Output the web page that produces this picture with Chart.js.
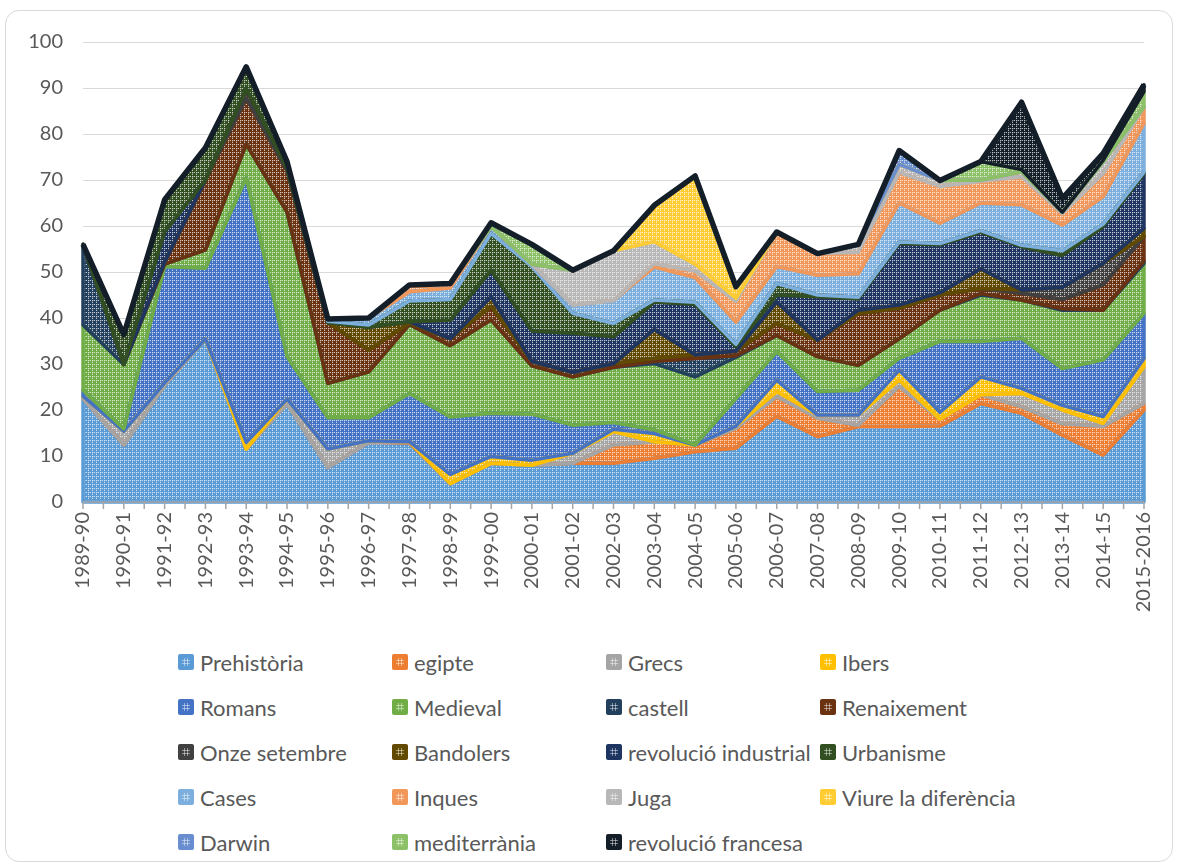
<!DOCTYPE html>
<html>
<head>
<meta charset="utf-8">
<title>Projectes per curs</title>
<script src="https://cdn.jsdelivr.net/npm/chart.js@4.4.0/dist/chart.umd.min.js"></script>
<style>
    body { margin: 0; background: #fff; font-family: Lato, "Open Sans", sans-serif; }
    #wrap { position: relative; width: 1178px; height: 868px; }
    #frame { position: absolute; left: 5px; top: 10px; width: 1166px; height: 850px; border: 1px solid #D9D9D9; border-radius: 14px; }
    #chartBox { position: absolute; left: 0; top: 0; width: 1178px; height: 640px; }
    .item { position: absolute; display: flex; align-items: center; height: 24px; color: #595959; font-size: 22px; white-space: nowrap; }
    .swatch { width: 16px; height: 16px; border-radius: 2px; margin-right: 6px; }
</style>
</head>
<body>
<div id="wrap">
    <div id="frame"></div>
    <div id="chartBox"><canvas id="projectesChart"></canvas></div>
    <div id="legend"></div>
</div>
<script>
const years = ['1989-90', '1990-91', '1991-92', '1992-93', '1993-94', '1994-95', '1995-96', '1996-97', '1997-98',
    '1998-99', '1999-00', '2000-01', '2001-02', '2002-03', '2003-04', '2004-05', '2005-06', '2006-07', '2007-08',
    '2008-09', '2009-10', '2010-11', '2011-12', '2012-13', '2013-14', '2014-15', '2015-2016'];

const prehistoria   = [22.5, 12.4, 25.4, 35.5, 11.5, 21.4, 7.5, 13, 12.8, 4, 8.4, 8, 8.4, 8.4, 9.5, 10.9, 11.7, 18.6, 14.2, 16.4, 16.4, 16.5, 21.4, 19.3, 14.5, 10.2, 20];
const egipte        = [0, 0, 0, 0, 0, 0, 0, 0, 0.3, 0, 0, 0, 0, 4, 3.6, 1.5, 4.3, 4.3, 4, 0.3, 8.7, 1.5, 1.9, 1.4, 2.5, 6.2, 1.4];
const grecs         = [0.5, 3, 0.5, 0, 0, 1, 4, 0.3, 0, 0, 0, 0, 2.2, 2.9, 0, 0, 0.5, 1.1, 0.7, 2.2, 1.4, 0, 0, 2.9, 3, 0.7, 8];
const ibers         = [0, 0, 0, 0, 1.5, 0, 0, 0, 0, 2, 1.5, 1.1, 0, 0.5, 1.8, 0, 0, 2.5, 0, 0, 2.2, 1.5, 3.9, 1.1, 1, 1.5, 1.8];
const romans        = [1.3, 0.5, 25.3, 15.3, 57.5, 9.2, 6.8, 5, 10.5, 12.5, 9.4, 10, 6.1, 1.5, 0.8, 0, 6, 6.2, 5.1, 5.4, 2.5, 15.4, 7.7, 10.9, 8, 12.3, 9.8];
const medieval      = [14.2, 14, 0.5, 4, 7.3, 31.4, 7.5, 10, 15, 15.5, 20.3, 10.5, 10.5, 12, 14.4, 14.8, 9, 3.5, 7.6, 5.4, 4.3, 6.8, 10.1, 8.3, 12.7, 10.8, 10.9];
const castell       = [17.5, 0, 0, 0, 0, 0, 0, 0, 0, 0, 0, 0, 0, 0, 0.5, 4, 0.3, 0, 0, 0, 0, 0, 0.3, 0, 0.3, 0, 0.5];
const renaixement   = [0, 0, 0.5, 15.2, 10, 9, 13.2, 4.7, 0.3, 1.5, 2.9, 1, 1, 0.8, 0.6, 0.8, 1, 2.6, 3.6, 11.3, 6.6, 3.3, 1.1, 1.5, 2, 5.5, 5.3];
const onzeSetembre  = [0, 0, 0, 0, 2, 0.5, 0, 0, 0, 0, 0, 0, 0, 0, 0, 0, 0, 0, 0, 0, 0, 0, 0, 0.7, 2.7, 4.7, 0];
const bandolers     = [0, 0, 0, 0, 0, 0, 0, 5, 0.3, 0, 2.1, 0, 0, 0, 6.3, 0, 0, 4.7, 0, 0.7, 0.7, 0.5, 4.3, 0, 0, 0, 1.8];
const revIndustrial = [0, 0, 6.5, 0, 0, 0, 0, 0, 0, 4, 5.8, 6.6, 8.5, 5.8, 6, 11, 1, 1.5, 9.4, 2.5, 13.4, 10.4, 8, 9.4, 6.9, 8, 11.9];
const urbanisme     = [0, 6.5, 7, 7, 4.8, 1.5, 0.3, 0.5, 4.5, 4.5, 8, 14, 4.3, 2.9, 0.4, 0.4, 0.5, 2.5, 0.4, 0.3, 0.3, 0.3, 0.3, 0.3, 1, 0.5, 0.3];
const cases         = [0, 0, 0, 0, 0, 0, 0.5, 1.5, 2, 2.5, 1.5, 0.5, 1.8, 5, 7.2, 5.4, 4.8, 3.7, 4.3, 5.1, 8.5, 4.4, 6, 8.8, 5.6, 6, 10.6];
const inques        = [0, 0, 0, 0, 0, 0, 0, 0, 1.5, 1, 0, 0, 0, 0, 0.7, 1.4, 4.5, 7.5, 4.7, 4.7, 6.6, 8, 4.7, 6.1, 2.5, 5, 3.6];
const juga          = [0, 0, 0, 0, 0, 0, 0, 0, 0, 0, 0, 0, 7.6, 10.8, 4.8, 1.5, 0.7, 0, 0, 1.7, 1.8, 1.3, 0.3, 1.1, 0.3, 2.6, 0];
const viure         = [0, 0, 0, 0, 0, 0, 0, 0, 0, 0, 0, 0, 0, 0, 7.9, 19.2, 2.5, 0, 0, 0, 0, 0, 0, 0, 0, 0, 0];
const darwin        = [0, 0, 0, 0, 0, 0, 0, 0, 0, 0, 0, 0, 0, 0, 0, 0, 0, 0, 0, 0, 3, 0, 0, 0, 0, 0, 0];
const mediterrania  = [0, 0, 0, 0, 0, 0, 0, 0, 0, 0, 0.8, 4.3, 0, 0, 0, 0, 0, 0, 0, 0, 0, 0, 4, 0.5, 0, 0.3, 3.3];
const revFrancesa   = [0, 0, 0, 0, 0, 0, 0, 0, 0, 0, 0, 0, 0, 0, 0, 0, 0, 0, 0, 0, 0, 0, 0, 14.6, 3, 1.5, 1.5];

const series = [
    { label: 'Prehistòria', data: prehistoria, color: '#5B9BD5' },
    { label: 'egipte', data: egipte, color: '#ED7D31' },
    { label: 'Grecs', data: grecs, color: '#A5A5A5' },
    { label: 'Ibers', data: ibers, color: '#FFC000' },
    { label: 'Romans', data: romans, color: '#4472C4' },
    { label: 'Medieval', data: medieval, color: '#70AD47' },
    { label: 'castell', data: castell, color: '#22405E' },
    { label: 'Renaixement', data: renaixement, color: '#6B3211' },
    { label: 'Onze setembre', data: onzeSetembre, color: '#404040' },
    { label: 'Bandolers', data: bandolers, color: '#614A00' },
    { label: 'revolució industrial', data: revIndustrial, color: '#1F3561' },
    { label: 'Urbanisme', data: urbanisme, color: '#324F21' },
    { label: 'Cases', data: cases, color: '#7CAFDD' },
    { label: 'Inques', data: inques, color: '#F1975A' },
    { label: 'Juga', data: juga, color: '#B7B7B7' },
    { label: 'Viure la diferència', data: viure, color: '#FFCD33' },
    { label: 'Darwin', data: darwin, color: '#698ED0' },
    { label: 'mediterrània', data: mediterrania, color: '#8CC168' },
    { label: 'revolució francesa', data: revFrancesa, color: '#131E29' }
];

// small grid pattern like the excel fill
function makePattern(hex) {
    const c = document.createElement('canvas');
    c.width = 4; c.height = 4;
    const g = c.getContext('2d');
    g.fillStyle = hex;
    g.fillRect(0, 0, 4, 4);
    g.fillStyle = 'rgba(255,255,255,0.7)';
    g.fillRect(0, 0, 1, 1);
    g.fillRect(2, 0, 1, 1);
    g.fillRect(0, 2, 1, 1);
    g.fillStyle = 'rgba(255,255,255,0.25)';
    g.fillRect(1, 0, 1, 1);
    g.fillRect(0, 1, 1, 1);
    return g.createPattern(c, 'repeat');
}

// each area gets its whole outline, upper series drawn last (as excel does)
const outlinePlugin = {
    id: 'outlines',
    afterDatasetsDraw(chart) {
        const ctx = chart.ctx;
        const base = chart.scales.y.getPixelForValue(0);
        let prev = null;
        ctx.save();
        ctx.lineJoin = 'round';
        chart.data.datasets.forEach((ds, k) => {
            const pts = chart.getDatasetMeta(k).data;
            ctx.beginPath();
            pts.forEach((p, j) => j ? ctx.lineTo(p.x, p.y) : ctx.moveTo(p.x, p.y));
            for (let j = pts.length - 1; j >= 0; j--) {
                ctx.lineTo(pts[j].x, prev ? prev[j].y : base);
            }
            ctx.closePath();
            ctx.lineWidth = 3.5;
            ctx.strokeStyle = series[k].color;
            ctx.stroke();
            prev = pts;
        });
        // thick top line
        ctx.beginPath();
        prev.forEach((p, j) => j ? ctx.lineTo(p.x, p.y) : ctx.moveTo(p.x, p.y));
        ctx.lineWidth = 5.5;
        ctx.strokeStyle = series[series.length - 1].color;
        ctx.stroke();
        ctx.restore();
    },
    afterDraw(chart) {
        const ctx = chart.ctx;
        const x = chart.scales.x;
        const yb = chart.chartArea.bottom;
        ctx.save();
        ctx.strokeStyle = '#A6A6A6';
        ctx.lineWidth = 1.5;
        ctx.beginPath();
        ctx.moveTo(chart.chartArea.left, yb);
        ctx.lineTo(chart.chartArea.right, yb);
        for (let j = 0; j < years.length; j++) {
            const px = x.getPixelForTick(j);
            ctx.moveTo(px, yb);
            ctx.lineTo(px, yb + 7);
            if (j < years.length - 1) {
                const mid = (px + x.getPixelForTick(j + 1)) / 2;
                ctx.moveTo(mid, yb);
                ctx.lineTo(mid, yb + 7);
            }
        }
        ctx.stroke();
        ctx.restore();
    }
};

function makeSwatch(hex) {
    const c = document.createElement('canvas');
    c.width = 16; c.height = 16;
    c.className = 'swatch';
    const g = c.getContext('2d');
    g.fillStyle = hex;
    g.fillRect(0, 0, 16, 16);
    g.fillStyle = 'rgba(255,255,255,0.45)';
    g.fillRect(6, 4, 1, 8);
    g.fillRect(9, 4, 1, 8);
    g.fillRect(4, 6, 8, 1);
    g.fillRect(4, 9, 8, 1);
    return c;
}

document.addEventListener('DOMContentLoaded', () => {
    const ctx = document.getElementById('projectesChart').getContext('2d');

    new Chart(ctx, {
        type: 'line',
        data: {
            labels: years,
            datasets: series.map((s, i) => ({
                label: s.label,
                data: s.data,
                backgroundColor: makePattern(s.color),
                borderColor: 'rgba(0,0,0,0)',
                borderWidth: 1,
                fill: i === 0 ? 'origin' : '-1',
                pointRadius: 0,
                tension: 0
            }))
        },
        options: {
            responsive: true,
            maintainAspectRatio: false,
            animation: false,
            layout: { padding: { left: 0, right: 15, top: 42, bottom: 0 } },
            plugins: { legend: { display: false }, tooltip: { enabled: false } },
            scales: {
                x: {
                    grid: { display: false, drawTicks: false },
                    border: { display: false },
                    ticks: {
                        autoSkip: false, minRotation: 90, maxRotation: 90, padding: 10,
                        color: '#595959', font: { family: 'Lato', size: 20 }
                    },
                    afterFit: (s) => { s.height = 138; }
                },
                y: {
                    stacked: true,
                    min: 0,
                    max: 100,
                    grid: { color: '#D9D9D9', lineWidth: 1, drawTicks: false },
                    border: { display: false },
                    ticks: {
                        stepSize: 10, padding: 20,
                        color: '#595959', font: { family: 'Lato', size: 20 }
                    },
                    afterFit: (s) => { s.width = 83; }
                }
            }
        },
        plugins: [outlinePlugin]
    });

    // legend in a 4 column grid
    const legend = document.getElementById('legend');
    const colLeft = [178, 392, 606, 820];
    series.forEach((s, i) => {
        const item = document.createElement('div');
        item.className = 'item';
        item.style.left = colLeft[i % 4] + 'px';
        item.style.top = (650 + Math.floor(i / 4) * 45) + 'px';
        item.appendChild(makeSwatch(s.color));
        item.appendChild(document.createTextNode(s.label));
        legend.appendChild(item);
    });
});
</script>
</body>
</html>
